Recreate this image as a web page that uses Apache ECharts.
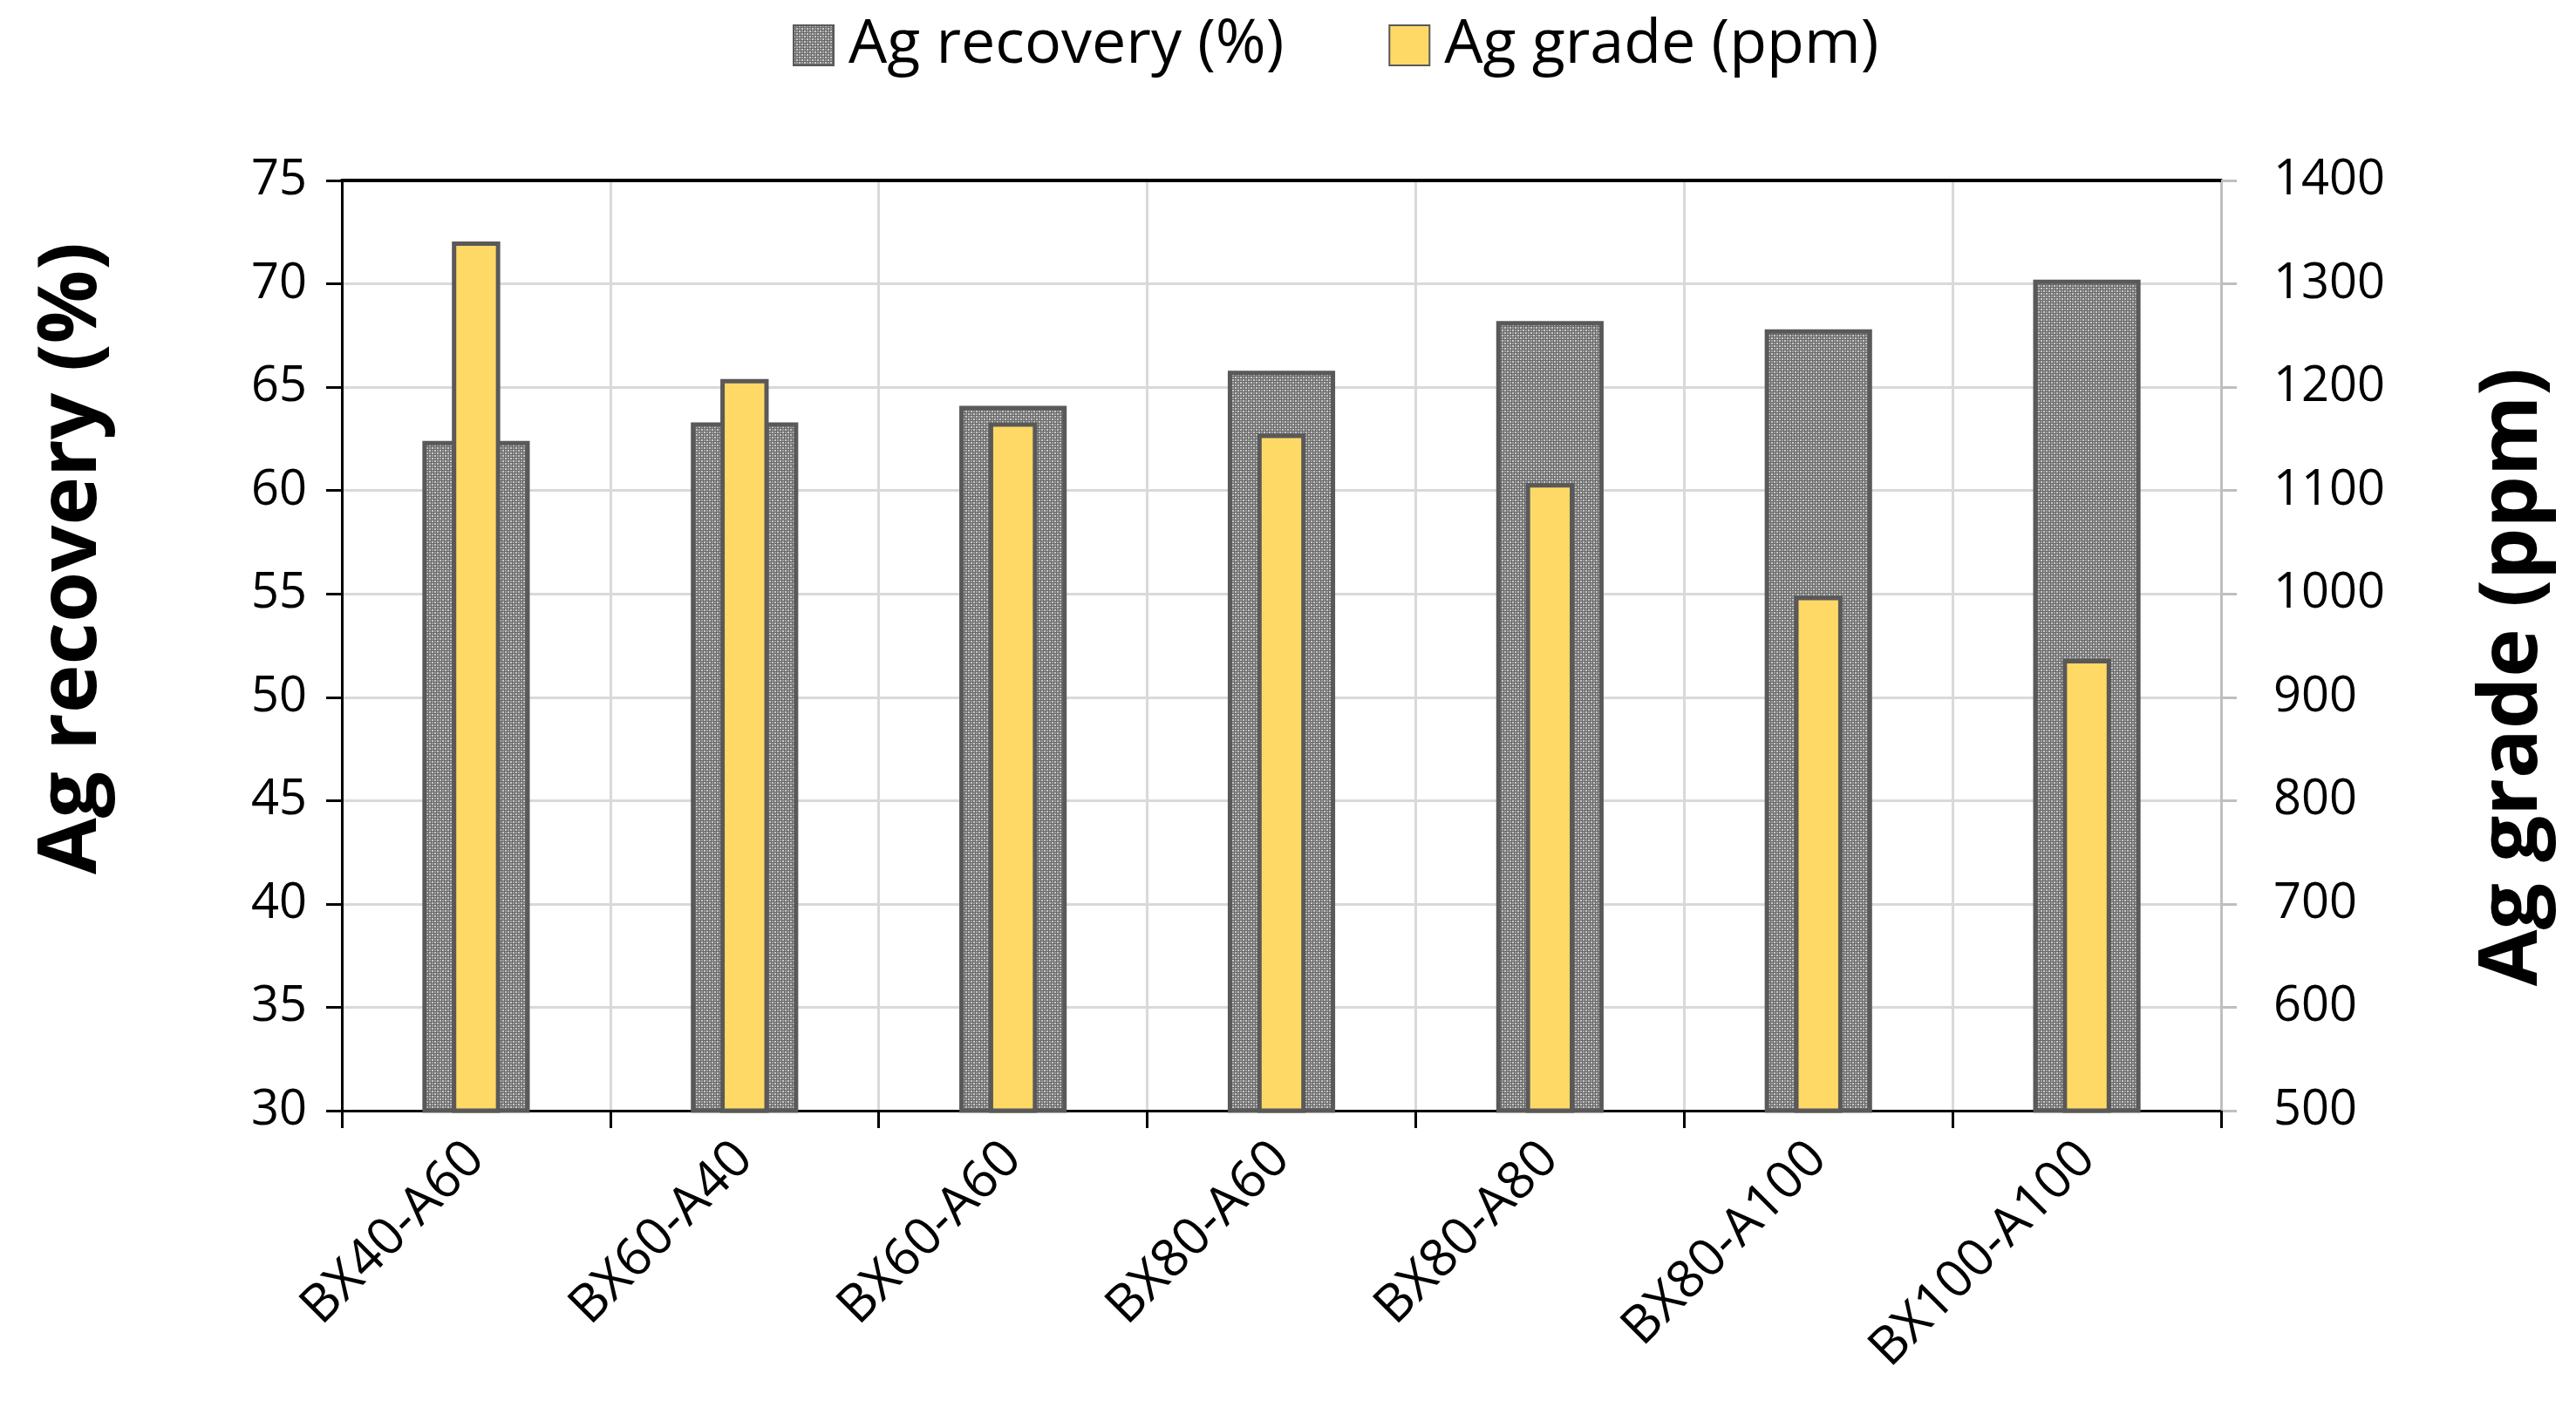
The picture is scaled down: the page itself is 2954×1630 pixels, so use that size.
<!DOCTYPE html>
<html>
<head>
<meta charset="utf-8">
<script src="https://cdn.jsdelivr.net/npm/echarts@6/dist/echarts.min.js"></script>
<style>
  html, body { margin: 0; padding: 0; background: #fff; }
  #chart { width: 2954px; height: 1630px; }
</style>
</head>
<body>
<div id="chart"></div>
<script>
// data
const categories = ['BX40-A60', 'BX60-A40', 'BX60-A60', 'BX80-A60', 'BX80-A80', 'BX80-A100', 'BX100-A100']
const recovery = [62.4, 63.3, 64.1, 65.8, 68.2, 67.8, 70.2]
const grade = [1341, 1208, 1166, 1155, 1107, 998, 937]

const FONT = 'Open Sans'

// dotted grey fill like the excel pattern
function makePattern() {
  const c = document.createElement('canvas')
  c.width = 6
  c.height = 6
  const ctx = c.getContext('2d')
  ctx.fillStyle = '#6a6a6a'
  ctx.fillRect(0, 0, 6, 6)
  ctx.fillStyle = '#c8c8c8'
  ctx.fillRect(0, 0, 2, 2)
  ctx.fillRect(3, 3, 2, 2)
  ctx.fillStyle = '#a0a0a0'
  ctx.fillRect(3, 0, 2, 2)
  ctx.fillRect(0, 3, 2, 2)
  return c
}

const myChart = echarts.init(document.getElementById('chart'))

const option = {
  backgroundColor: '#fff',
  animation: false,
  textStyle: { fontFamily: FONT },
  legend: {
    top: 12,
    left: 904,
    itemWidth: 46,
    itemHeight: 46,
    itemGap: 120,
    icon: 'rect',
    textStyle: { fontSize: 70, color: '#000', fontFamily: FONT, padding: [0, 0, 0, 12] },
    data: ['Ag recovery (%)', 'Ag grade (ppm)']
  },
  grid: {
    left: 392,
    right: 407,
    top: 207,
    bottom: 356
  },
  xAxis: [
    {
      type: 'category',
      data: categories,
      position: 'bottom',
      axisLine: { lineStyle: { color: '#000', width: 3 } },
      axisTick: { show: true, length: 20, lineStyle: { color: '#000', width: 3 } },
      axisLabel: {
        rotate: 45,
        margin: 46,
        fontSize: 60,
        color: '#000',
        fontFamily: FONT
      },
      splitLine: { show: true, lineStyle: { color: '#d9d9d9', width: 3 } }
    },
    {
      type: 'category',
      data: categories,
      position: 'top',
      axisLine: { lineStyle: { color: '#000', width: 4 } },
      axisTick: { show: false },
      axisLabel: { show: false },
      splitLine: { show: false }
    }
  ],
  yAxis: [
    {
      type: 'value',
      min: 30,
      max: 75,
      interval: 5,
      name: 'Ag recovery (%)',
      nameLocation: 'middle',
      nameRotate: 90,
      nameGap: 262,
      nameTextStyle: { fontSize: 94, fontWeight: 'bold', color: '#000', fontFamily: FONT, padding: [0, 0, 0, 200] },
      axisLine: { show: true, lineStyle: { color: '#000', width: 3 } },
      axisTick: { show: true, length: 18, lineStyle: { color: '#000', width: 3 } },
      axisLabel: { fontSize: 56, color: '#000', margin: 40, fontFamily: FONT },
      splitLine: { show: true, lineStyle: { color: '#d9d9d9', width: 3 } }
    },
    {
      type: 'value',
      min: 500,
      max: 1400,
      interval: 100,
      position: 'right',
      name: 'Ag grade (ppm)',
      nameLocation: 'middle',
      nameRotate: 90,
      nameGap: 288,
      nameTextStyle: { fontSize: 94, fontWeight: 'bold', color: '#000', fontFamily: FONT, padding: [0, 72, 0, 0] },
      axisLine: { show: true, lineStyle: { color: '#bfbfbf', width: 3 } },
      axisTick: { show: true, length: 18, lineStyle: { color: '#bfbfbf', width: 3 } },
      axisLabel: { fontSize: 56, color: '#000', margin: 60, fontFamily: FONT, formatter: v => String(v) },
      splitLine: { show: false }
    }
  ],
  series: [
    {
      name: 'Ag recovery (%)',
      type: 'bar',
      xAxisIndex: 0,
      yAxisIndex: 0,
      barWidth: '40%',
      data: recovery,
      itemStyle: {
        color: { image: makePattern(), repeat: 'repeat' },
        borderColor: '#595959',
        borderWidth: 5
      }
    },
    {
      name: 'Ag grade (ppm)',
      type: 'bar',
      xAxisIndex: 1,
      yAxisIndex: 1,
      barWidth: '18%',
      data: grade,
      itemStyle: {
        color: '#ffd966',
        borderColor: '#595959',
        borderWidth: 5
      }
    }
  ]
}

myChart.setOption(option)
window.addEventListener('resize', () => {
  myChart.resize()
})
</script>
</body>
</html>
